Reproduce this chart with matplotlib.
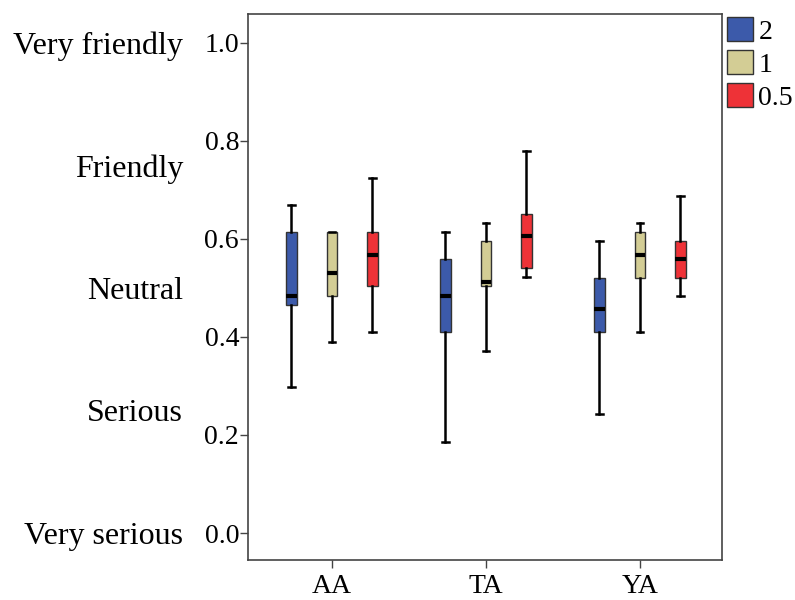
import matplotlib
matplotlib.use("Agg")
from matplotlib import pyplot as plt, patches

plt.rcParams['font.family'] = ['Liberation Serif', 'DejaVu Serif']

# data
groups = ['AA', 'TA', 'YA']
series = ['2', '1', '0.5']
colors = ['#3C5AAA', '#D3CD95', '#EE3237']

# per series, per group: lower whisker, Q1, median, Q3, upper whisker
whislo = {'2': [0.298, 0.186, 0.242], '1': [0.390, 0.372, 0.409], '0.5': [0.410, 0.522, 0.484]}
q1 = {'2': [0.465, 0.410, 0.409], '1': [0.484, 0.503, 0.520], '0.5': [0.503, 0.540, 0.520]}
med = {'2': [0.484, 0.484, 0.456], '1': [0.530, 0.512, 0.567], '0.5': [0.567, 0.605, 0.558]}
q3 = {'2': [0.614, 0.559, 0.520], '1': [0.614, 0.595, 0.614], '0.5': [0.614, 0.651, 0.595]}
whishi = {'2': [0.669, 0.614, 0.595], '1': [0.614, 0.632, 0.632], '0.5': [0.724, 0.780, 0.688]}

yticks = [0.0, 0.2, 0.4, 0.6, 0.8, 1.0]
scale_labels = ['Very serious', 'Serious', 'Neutral', 'Friendly', 'Very friendly']
scale_pos = [0.0, 0.25, 0.5, 0.75, 1.0]

fig = plt.figure(figsize=(7.95, 6), dpi=100)
ax = fig.add_axes([0.312, 0.0667, 0.596, 0.9103])

offsets = [-0.263, 0.0, 0.263]
for s, name in enumerate(series):
    stats = []
    for g in range(len(groups)):
        stats.append(dict(whislo=whislo[name][g], q1=q1[name][g], med=med[name][g],
                          q3=q3[name][g], whishi=whishi[name][g], fliers=[]))
    pos = [g + offsets[s] for g in range(len(groups))]
    ax.bxp(stats, positions=pos, widths=0.066, patch_artist=True, showfliers=False,
           boxprops=dict(facecolor=colors[s], edgecolor='#333333', linewidth=1.0),
           medianprops=dict(color='black', linewidth=3),
           whiskerprops=dict(color='black', linewidth=1.8),
           capprops=dict(color='black', linewidth=1.8), capwidths=0.04,
           manage_ticks=False)

ax.set_xlim(-0.545, 2.532)
ax.set_ylim(-0.055, 1.059)
ax.set_xticks(range(len(groups)))
ax.set_xticklabels(groups, fontsize=20)
ax.set_yticks(yticks)
ax.set_yticklabels([f'{t:.1f}' for t in yticks], fontsize=20)
ax.tick_params(axis='both', direction='out', length=6, width=1, color='#444444')
ax.tick_params(axis='y', pad=0.5)
ax.tick_params(axis='x', pad=4)
for sp in ax.spines.values():
    sp.set_color('#444444')
    sp.set_linewidth(1.2)

for lab, p in zip(scale_labels, scale_pos):
    ax.text(-0.137, p, lab, transform=ax.get_yaxis_transform(), ha='right',
            va='center_baseline', fontsize=23)

handles = [patches.Patch(facecolor=c, edgecolor='#333333', linewidth=1.0, label=n)
           for c, n in zip(colors, series)]
fig.legend(handles=handles, loc='upper left', bbox_to_anchor=(0.9145, 0.971), frameon=False,
           fontsize=20, handlelength=0.93, handleheight=0.93, handletextpad=0.2,
           labelspacing=0.2, borderaxespad=0, borderpad=0.0)

fig.savefig('out.png', dpi=100)
